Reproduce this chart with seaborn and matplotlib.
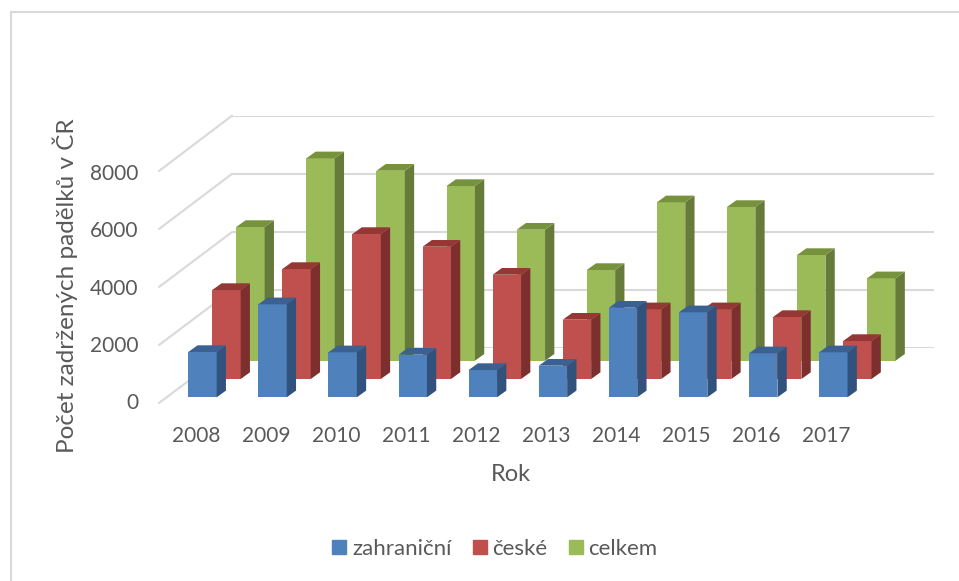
import numpy as np
import pandas as pd
import matplotlib.pyplot as plt
import seaborn as sns
from matplotlib.lines import Line2D
from matplotlib.patches import Patch

roky = ["2008", "2009", "2010", "2011", "2012", "2013", "2014", "2015", "2016", "2017"]
zahranicni = [1557, 3196, 1546, 1464, 938, 1086, 3079, 2921, 1512, 1546]
ceske = [3058, 3780, 4983, 4546, 3584, 2038, 2395, 2395, 2130, 1306]
celkem = [4595, 6955, 6529, 6003, 4502, 3117, 5443, 5282, 3632, 2832]
y_ticks = [0, 2000, 4000, 6000, 8000]

W, H = 959, 581
TXT = "#595959"
GRID = "#d9d9d9"

sns.set_theme(style="white")
plt.rcParams["font.family"] = ["Lato", "DejaVu Sans"]
fig = plt.figure(figsize=(W / 100, H / 100), dpi=100)


def px_axes(left, top, right, bottom, zorder):
    # pixel box of the reference -> figure fractions
    ax = fig.add_axes([left / W, 1 - bottom / H, (right - left) / W, (bottom - top) / H], zorder=zorder)
    ax.patch.set_alpha(0)
    sns.despine(ax=ax, left=True, bottom=True)
    return ax


def px_line(x0, y0, x1, y1):
    fig.add_artist(Line2D([x0 / W, x1 / W], [1 - y0 / H, 1 - y1 / H], color=GRID, lw=1.5))


# chart frame, only top and left are in the picture
px_line(10.5, 12, 959, 12)
px_line(10.5, 12, 10.5, 581)

# back wall with the gridlines
wall = px_axes(232, 115.7, 934, 348.3, 1)
wall.set_ylim(0, 8000)
wall.set_yticks(y_ticks)
wall.set_xticks([])
wall.set_yticklabels([])
wall.grid(axis="y", color=GRID, lw=1.5)

# side wall
for t in y_ticks:
    f = t / 8000
    px_line(159, 403 - f * 232, 232, 348.3 - f * 232.6)

# front axis, only for the labels
front = px_axes(160.7, 172, 861.7, 401, 2)
front.set_xlim(-0.5, 9.5)
front.set_ylim(0, 8000)
front.set_xticks(range(len(roky)))
front.set_xticklabels(roky)
front.set_yticks(y_ticks)
front.tick_params(axis="both", labelsize=15, labelcolor=TXT, length=0)
front.tick_params(axis="x", pad=18)
front.tick_params(axis="y", pad=16)
front.set_xlabel("Rok", fontsize=17, color=TXT)
front.xaxis.set_label_coords((511 - 160.7) / 701, -(464 - 401) / 229, transform=front.transAxes)
front.set_ylabel("Počet zadržených padělků v ČR", fontsize=17.5, color=TXT)
front.yaxis.set_label_coords((78 - 160.7) / 701, (401 - 286) / 229, transform=front.transAxes)


def bars3d(values, name, left, bottom, colors, zorder):
    ax = px_axes(left, bottom - 232.8, left + 701, bottom, zorder)
    df = pd.DataFrame({"rok": roky, name: values})
    sns.barplot(data=df, x="rok", y=name, color=colors[0], saturation=1, width=0.405, ax=ax,
                edgecolor="none")
    ax.set_xlim(-0.5, 9.5)
    ax.set_ylim(0, 8000)
    ax.set(xlabel="", ylabel="", xticks=[], yticks=[])
    # depth of the bar: 9 px to the right, 6.5 px up
    dx = 9.3 / 70.1
    dy = 6.7 / 232.8 * 8000
    for p in ax.patches:
        x0, x1, h = p.get_x(), p.get_x() + p.get_width(), p.get_height()
        ax.fill([x1, x1 + dx, x1 + dx, x1], [0, dy, h + dy, h], color=colors[1], lw=0, clip_on=False)
        ax.fill([x0, x1, x1 + dx, x0 + dx], [h, h, h + dy, h + dy], color=colors[2], lw=0, clip_on=False)
    return ax


c_modra = ["#4f81bd", "#30527c", "#3a6191"]
c_cervena = ["#c0504d", "#7c2f2d", "#953735"]
c_zelena = ["#9bbb59", "#667a3a", "#76923c"]

# back to front
bars3d(celkem, "celkem", 215.4, 360.7, c_zelena, 3)
bars3d(ceske, "české", 191.4, 379, c_cervena, 4)
bars3d(zahranicni, "zahraniční", 167.4, 397.3, c_modra, 5)

handles = [Patch(color=c_modra[0], label="zahraniční"), Patch(color=c_cervena[0], label="české"),
           Patch(color=c_zelena[0], label="celkem")]
fig.legend(handles=handles, loc="center", bbox_to_anchor=(495 / W, 1 - 549 / H), ncol=3, frameon=False,
           fontsize=16, labelcolor=TXT, handlelength=0.62, handleheight=0.62, handletextpad=0.27,
           columnspacing=0.95)

plt.savefig("out.png", dpi=100)
